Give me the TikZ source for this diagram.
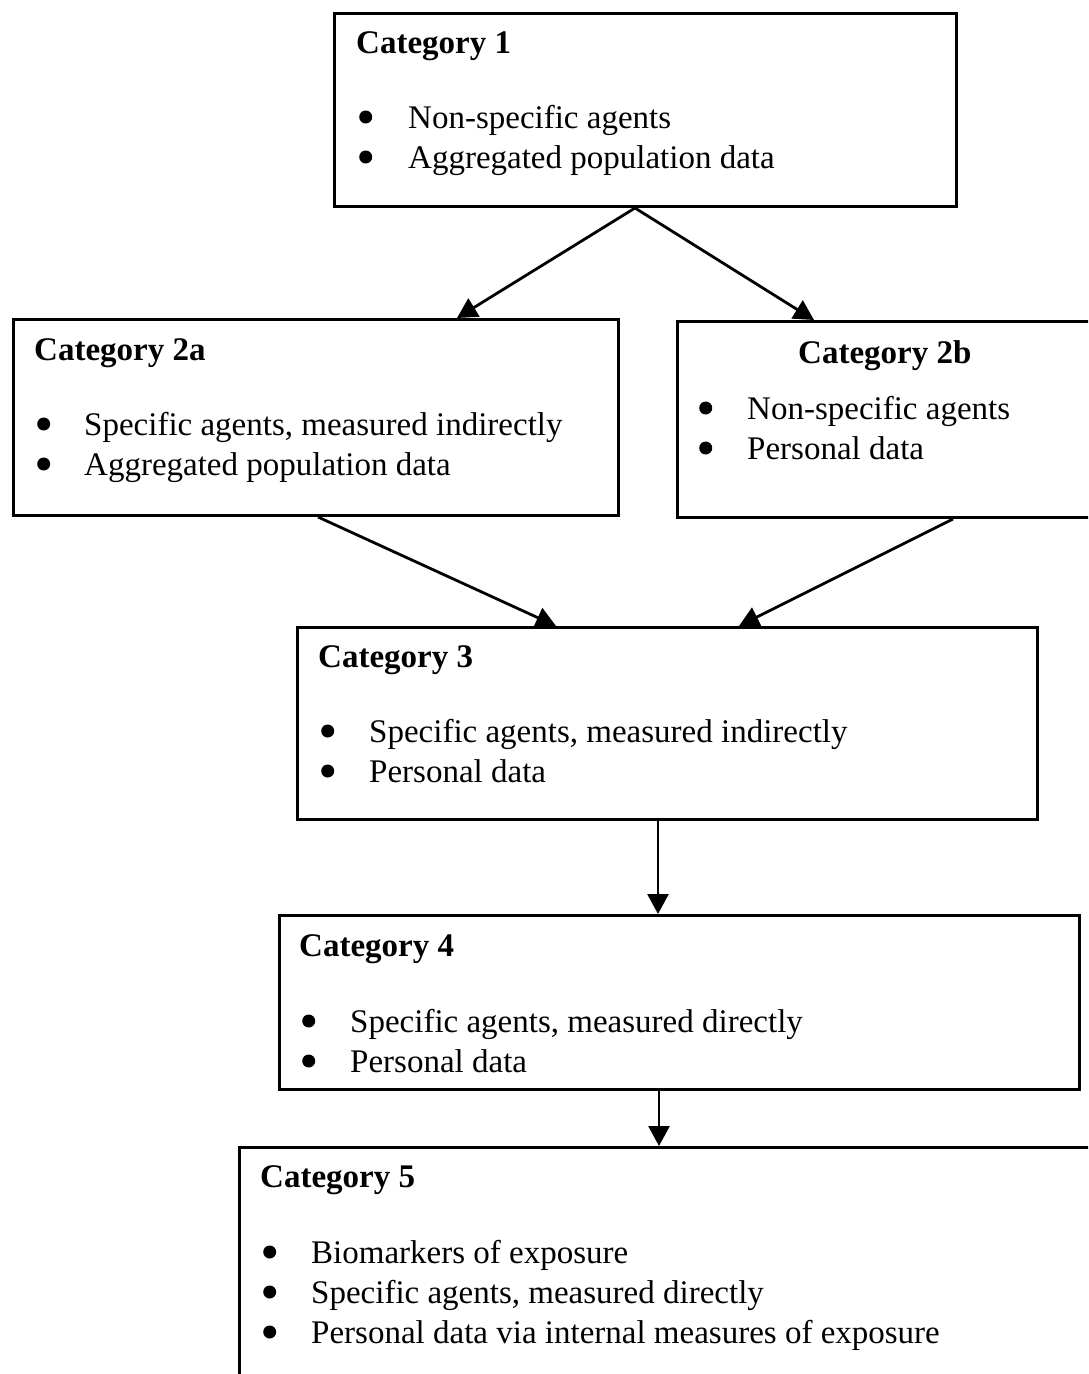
\documentclass[tikz,border=0pt]{standalone}
\usepackage{fontspec}
\setmainfont{Liberation Serif}
\usetikzlibrary{arrows.meta,positioning}

\newcommand{\bul}{\hspace*{3pt}\tikz[baseline=0pt]\fill (7pt,11pt) circle[radius=6.5pt];}

\begin{document}
\begin{tikzpicture}[x=1pt,y=-1pt,
  catbox/.style={draw,line width=3pt,inner sep=0pt,anchor=north west},
  cattext/.style={anchor=base west,inner sep=0pt,font=\fontsize{33}{40}\selectfont},
  flow/.style={line width=2.8pt,-{Triangle[length=20pt,width=21pt]}}]
\useasboundingbox (0,0) rectangle (1088,1374);
\clip (0,0) rectangle (1088,1374);
% Category 1 at the top
\node[catbox,minimum width=622pt,minimum height=193pt] (c1) at (333,12) {};
\node[cattext] (t1) at (356,53) {\begin{tabular}[t]{@{}p{52pt}@{}l@{}}
  \multicolumn{2}{@{}l@{}}{\bfseries Category 1}\\[35pt]
  \bul & Non-specific agents\\
  \bul & Aggregated population data
\end{tabular}};
% Category 2a and 2b side by side
\node[catbox,minimum width=605pt,minimum height=196pt] (c2a) at (12,318) {};
\node[cattext] (t2a) at (34,360) {\begin{tabular}[t]{@{}p{50pt}@{}l@{}}
  \multicolumn{2}{@{}l@{}}{\bfseries Category 2a}\\[35pt]
  \bul & Specific agents, measured indirectly\\
  \bul & Aggregated population data
\end{tabular}};
\node[catbox,minimum width=444pt,minimum height=196pt] (c2b) at (676,320) {};
\node[cattext] (t2b) at (696,363) {\begin{tabular}[t]{@{}p{51pt}@{}l@{}}
  \multicolumn{2}{@{}l@{}}{\hspace*{102pt}\bfseries Category 2b}\\[16pt]
  \bul & Non-specific agents\\
  \bul & Personal data
\end{tabular}};
% Category 3
\node[catbox,minimum width=740pt,minimum height=192pt] (c3) at (296,626) {};
\node[cattext] (t3) at (318,667) {\begin{tabular}[t]{@{}p{51pt}@{}l@{}}
  \multicolumn{2}{@{}l@{}}{\bfseries Category 3}\\[35pt]
  \bul & Specific agents, measured indirectly\\
  \bul & Personal data
\end{tabular}};
% Category 4
\node[catbox,minimum width=800pt,minimum height=174pt] (c4) at (278,914) {};
\node[cattext] (t4) at (299,956) {\begin{tabular}[t]{@{}p{51pt}@{}l@{}}
  \multicolumn{2}{@{}l@{}}{\bfseries Category 4}\\[36pt]
  \bul & Specific agents, measured directly\\
  \bul & Personal data
\end{tabular}};
% Category 5 runs off the page
\node[catbox,minimum width=882pt,minimum height=254pt] (c5) at (238,1146) {};
\node[cattext] (t5) at (260,1187) {\begin{tabular}[t]{@{}p{51pt}@{}l@{}}
  \multicolumn{2}{@{}l@{}}{\bfseries Category 5}\\[36pt]
  \bul & Biomarkers of exposure\\
  \bul & Specific agents, measured directly\\
  \bul & Personal data via internal measures of exposure
\end{tabular}};
% arrows
\draw[flow] (c1.south -| 635,0) -- (c2a.north -| 457,0);
\draw[flow] (c1.south -| 635,0) -- (c2b.north -| 814,0);
\draw[flow] (c2a.south -| 318,0) -- (c3.north -| 556,0);
\draw[flow] (c2b.south -| 953,0) -- (c3.north -| 739,0);
\draw[flow] (c3.south -| 658,0) -- (c4.north -| 658,0);
\draw[flow] (c4.south -| 659,0) -- (c5.north -| 659,0);
\end{tikzpicture}
\end{document}
